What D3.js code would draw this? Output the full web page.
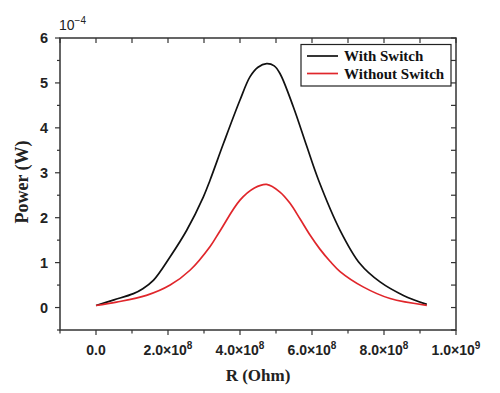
<!DOCTYPE html>
<html><head><meta charset="utf-8">
<script src="https://cdn.jsdelivr.net/npm/d3@7"></script>
<style>body{margin:0;background:#fff}</style>
</head><body>
<svg id="c" width="500" height="393"></svg>
<script>
const withR = [0, 0.5e8, 1.04e8, 1.3e8, 1.6e8, 2.06e8, 2.52e8, 2.98e8, 3.17e8, 3.54e8, 4.0e8, 4.28e8, 4.5e8, 4.74e8, 4.95e8, 5.11e8, 5.48e8, 5.85e8, 6.18e8, 6.78e8, 7.33e8, 7.89e8, 8.54e8, 9.19e8];
const withP = [0.045, 0.17, 0.31, 0.42, 0.61, 1.13, 1.72, 2.46, 2.84, 3.65, 4.62, 5.14, 5.35, 5.43, 5.38, 5.21, 4.47, 3.6, 2.84, 1.72, 0.98, 0.57, 0.27, 0.07];
const withoutR = [0, 0.57e8, 1.4e8, 2.06e8, 2.61e8, 3.17e8, 3.44e8, 4.0e8, 4.4e8, 4.74e8, 5.11e8, 5.39e8, 5.67e8, 5.94e8, 6.22e8, 6.5e8, 6.78e8, 7.42e8, 8.17e8, 9.19e8];
const withoutP = [0.045, 0.12, 0.27, 0.50, 0.83, 1.36, 1.70, 2.39, 2.66, 2.74, 2.57, 2.32, 1.97, 1.62, 1.30, 1.03, 0.80, 0.46, 0.20, 0.05];
const xTicks = [0, 2e8, 4e8, 6e8, 8e8, 1e9];
const xTickLabels = [["0.0", ""], ["2.0\u00d710", "8"], ["4.0\u00d710", "8"], ["6.0\u00d710", "8"], ["8.0\u00d710", "8"], ["1.0\u00d710", "9"]];
const yTicks = [0, 1, 2, 3, 4, 5, 6];
const seriesNames = ["With Switch", "Without Switch"];
const seriesColors = ["#111", "#e0262b"];

const svg = d3.select("#c");
const L = 60, R = 456, T = 38, B = 330;
const x = d3.scaleLinear().domain([-1e8, 1e9]).range([L, R]);
const y = d3.scaleLinear().domain([-0.5, 6]).range([B, T]);
const axisColor = "#333";

const xMinor = d3.range(-1e8, 1e9 + 1, 1e8);
const yMinor = d3.range(-0.5, 6.01, 0.5);

const g = svg.append("g");
g.append("rect").attr("x", L).attr("y", T).attr("width", R - L).attr("height", B - T)
  .attr("fill", "none").attr("stroke", axisColor).attr("stroke-width", 1.5);

xMinor.forEach(v => {
  const major = xTicks.some(t => Math.abs(t - v) < 1);
  g.append("line").attr("x1", x(v)).attr("x2", x(v)).attr("y1", B).attr("y2", B + (major ? 5 : 3.5))
    .attr("stroke", axisColor).attr("stroke-width", 1.2);
  g.append("line").attr("x1", x(v)).attr("x2", x(v)).attr("y1", T).attr("y2", T + 5)
    .attr("stroke", axisColor).attr("stroke-width", 1.2);
});
yMinor.forEach(v => {
  const major = Math.abs(v - Math.round(v)) < 1e-6;
  g.append("line").attr("x1", L).attr("x2", L - (major ? 5 : 3)).attr("y1", y(v)).attr("y2", y(v))
    .attr("stroke", axisColor).attr("stroke-width", 1.2);
  g.append("line").attr("x1", R).attr("x2", R - 5).attr("y1", y(v)).attr("y2", y(v))
    .attr("stroke", axisColor).attr("stroke-width", 1.2);
});

xTicks.forEach((t, i) => {
  const tx = g.append("text").attr("x", x(t)).attr("y", 355).attr("text-anchor", "middle")
    .attr("font-family", "Liberation Sans, Arial, sans-serif").attr("font-weight", "bold")
    .attr("font-size", 14).attr("fill", "#222");
  tx.append("tspan").text(xTickLabels[i][0]);
  if (xTickLabels[i][1]) tx.append("tspan").attr("dy", -6).attr("font-size", 10).text(xTickLabels[i][1]);
});
yTicks.forEach(t => {
  g.append("text").attr("x", 48).attr("y", y(t) + 5).attr("text-anchor", "end")
    .attr("font-family", "Liberation Sans, Arial, sans-serif").attr("font-weight", "bold")
    .attr("font-size", 14.5).attr("fill", "#222").text(t);
});
const ex = g.append("text").attr("x", 59).attr("y", 30)
  .attr("font-family", "Liberation Sans, Arial, sans-serif")
  .attr("font-size", 14).attr("fill", "#222");
ex.append("tspan").text("10");
ex.append("tspan").attr("dy", -6).attr("font-size", 10).text("\u22124");

g.append("text").attr("x", 258).attr("y", 381).attr("text-anchor", "middle")
  .attr("font-family", "Liberation Serif, Times New Roman, serif").attr("font-weight", "bold")
  .attr("font-size", 17).attr("fill", "#222").text("R (Ohm)");
g.append("text").attr("transform", "translate(28,182) rotate(-90)").attr("text-anchor", "middle")
  .attr("font-family", "Liberation Serif, Times New Roman, serif").attr("font-weight", "bold")
  .attr("font-size", 18).attr("fill", "#222").text("Power (W)");

const line = d3.line().x(d => x(d[0])).y(d => y(d[1])).curve(d3.curveCatmullRom.alpha(0.5));
const s1 = withR.map((r, i) => [r, withP[i]]);
const s2 = withoutR.map((r, i) => [r, withoutP[i]]);
g.append("path").datum(s1).attr("d", line).attr("fill", "none").attr("stroke", seriesColors[0]).attr("stroke-width", 1.7);
g.append("path").datum(s2).attr("d", line).attr("fill", "none").attr("stroke", seriesColors[1]).attr("stroke-width", 1.7);

g.append("rect").attr("x", 301).attr("y", 44.5).attr("width", 150).attr("height", 41.5)
  .attr("fill", "#fff").attr("stroke", "#222").attr("stroke-width", 1.2);
seriesNames.forEach((n, i) => {
  const ly = 56 + i * 17.5;
  g.append("line").attr("x1", 307).attr("x2", 338).attr("y1", ly).attr("y2", ly)
    .attr("stroke", seriesColors[i]).attr("stroke-width", 1.7);
  g.append("text").attr("x", 344).attr("y", ly + 5)
    .attr("font-family", "Liberation Serif, Times New Roman, serif").attr("font-weight", "bold")
    .attr("font-size", 15).attr("fill", "#111").text(n);
});
</script>
</body></html>
